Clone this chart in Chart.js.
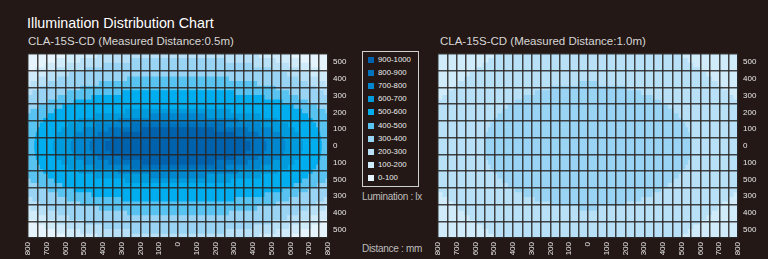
<!DOCTYPE html>
<html>
<head>
<meta charset="utf-8">
<script src="https://cdn.jsdelivr.net/npm/chart.js@4.4.0/dist/chart.umd.min.js"></script>
<style>
  html, body { margin: 0; padding: 0; background: #231815; }
  body { width: 768px; height: 259px; position: relative; overflow: hidden; font-family: "Liberation Sans", Arial, sans-serif; }
  .title { position: absolute; left: 27px; top: 16px; color: #fff; font-size: 14.3px; line-height: 14px; white-space: nowrap; }
  .sub { position: absolute; top: 36px; color: #d6d6d6; font-size: 11.5px; line-height: 11.5px; white-space: nowrap; }
  canvas { position: absolute; }
  #legend { position: absolute; left: 362px; top: 51px; width: 55px; height: 134px; border: 1px solid #d0d0d0; }
  .item { position: absolute; left: 5px; height: 8px; color: #ececec; font-size: 7.8px; line-height: 8px; white-space: nowrap; }
  .item span { position: absolute; left: 0; top: 1px; width: 6px; height: 6px; }
  .item b { position: absolute; left: 10px; top: 0; font-weight: normal; }
  .note { position: absolute; left: 362px; color: #bdbdbd; font-size: 10px; line-height: 10px; letter-spacing: -0.3px; white-space: nowrap; }
</style>
</head>
<body>
<div class="title">Illumination Distribution Chart</div>
<div class="sub" style="left:28px">CLA-15S-CD (Measured Distance:0.5m)</div>
<div class="sub" style="left:440px">CLA-15S-CD (Measured Distance:1.0m)</div>
<canvas id="near" width="340" height="215" style="left:20px; top:44px"></canvas>
<canvas id="far" width="338" height="215" style="left:430px; top:44px"></canvas>
<div id="legend"></div>
<div class="note" style="top:192px">Lumination : lx</div>
<div class="note" style="top:244px">Distance : mm</div>
<script>
// lux ranges, darkest shown first in the legend
const levels = ["0-100", "100-200", "200-300", "300-400", "400-500", "500-600", "600-700", "700-800", "800-900", "900-1000"];
const levelColors = ["#e6f5fd", "#d0ecfa", "#b8e1f8", "#9ad4f4", "#58c3f0", "#00aeef", "#009bdd", "#0087cf", "#0073bf", "#0061ad"];

// tick labels as printed on the original
const xTickLabels = ["800", "700", "600", "500", "400", "300", "200", "100", "0", "100", "200", "300", "400", "500", "600", "700", "800"];
const yTickLabels = ["500", "450", "400", "500", "300", "250", "200", "150", "100", "50", "0", "50", "100", "150", "500", "550", "300", "350", "400", "450", "500"];

// 25 mm bands, upper half (mm from centre); lower half is the mirror
const bandsUpper = [487.5, 462.5, 437.5, 412.5, 387.5, 362.5, 337.5, 312.5, 287.5, 262.5, 237.5, 212.5, 187.5, 162.5, 137.5, 112.5, 87.5, 62.5, 37.5, 12.5];

// half width (mm) of each lux zone in every band, measured distance 0.5 m
const nearL1 = [600, 655, 710, 760, 800, 800, 800, 800, 800, 800, 800, 800, 800, 800, 800, 800, 800, 800, 800, 800];
const nearL2 = [430, 520, 590, 650, 700, 745, 785, 800, 800, 800, 800, 800, 800, 800, 800, 800, 800, 800, 800, 800];
const nearL3 = [0, 250, 400, 500, 580, 640, 690, 735, 775, 800, 800, 800, 800, 800, 800, 800, 800, 800, 800, 800];
const nearL4 = [0, 0, 0, 0, 0, 270, 420, 520, 590, 640, 690, 740, 785, 800, 800, 800, 800, 800, 800, 800];
const nearL5 = [0, 0, 0, 0, 0, 0, 0, 0, 300, 460, 555, 615, 660, 692, 717, 735, 748, 757, 762, 765];
const nearL6 = [0, 0, 0, 0, 0, 0, 0, 0, 0, 0, 0, 0, 280, 440, 530, 585, 620, 643, 657, 665];
const nearL7 = [0, 0, 0, 0, 0, 0, 0, 0, 0, 0, 0, 0, 0, 150, 320, 440, 505, 543, 562, 570];
const nearL8 = [0, 0, 0, 0, 0, 0, 0, 0, 0, 0, 0, 0, 0, 0, 0, 250, 370, 428, 458, 470];
const nearL9 = [0, 0, 0, 0, 0, 0, 0, 0, 0, 0, 0, 0, 0, 0, 0, 0, 190, 300, 360, 386];

// measured distance 1.0 m
const farL1 = [800, 800, 800, 800, 800, 800, 800, 800, 800, 800, 800, 800, 800, 800, 800, 800, 800, 800, 800, 800];
const farL2 = [500, 530, 560, 595, 630, 660, 690, 715, 745, 775, 800, 800, 800, 800, 800, 800, 800, 800, 800, 800];
const farL3 = [0, 0, 0, 0, 0, 0, 50, 198, 282, 342, 388, 425, 456, 481, 502, 518, 531, 540, 547, 550];

const bands = bandsUpper.concat(bandsUpper.map(v => -v).reverse());
const gridColor = "rgba(40,36,34,0.85)";

function zoneData(widths) {
  return bands.map((b, i) => {
    const w = widths[i < 20 ? i : 39 - i];
    return w > 0 ? [-w, w] : null;
  });
}

function heatmap(id, zones, rightWidth) {
  const base = bandsUpper.map(() => 800);
  const all = [base].concat(zones);
  const datasets = all.map((w, k) => ({
    label: levels[k],
    data: zoneData(w),
    backgroundColor: levelColors[k],
    borderWidth: 0,
    grouped: false,
    categoryPercentage: 1,
    barPercentage: 1,
    order: 10 - k
  }));
  new Chart(document.getElementById(id), {
    type: "bar",
    data: { labels: bands, datasets },
    options: {
      indexAxis: "y",
      responsive: false,
      animation: false,
      devicePixelRatio: 1,
      layout: { padding: { left: 8, top: 6, right: 0, bottom: 0 } },
      plugins: { legend: { display: false }, tooltip: { enabled: false } },
      scales: {
        y: { type: "category", display: false },
        x: {
          type: "linear", min: -800, max: 800,
          grid: { color: gridColor, lineWidth: 1.5, drawTicks: false, z: 1 },
          border: { color: gridColor, width: 1.5, z: 1 },
          ticks: {
            stepSize: 50, autoSkip: false, minRotation: 90, maxRotation: 90, padding: 4,
            color: "#e6e6e6", font: { family: "Liberation Sans", size: 8 },
            callback: v => (v % 100 === 0 ? xTickLabels[(v + 800) / 100] : "")
          },
          afterFit: s => { s.height = 21; }
        },
        yr: {
          type: "linear", position: "right", min: -500, max: 500,
          grid: { color: gridColor, lineWidth: 1.5, drawTicks: false, z: 1 },
          border: { color: gridColor, width: 1.5, z: 1 },
          ticks: {
            stepSize: 50, padding: 5, color: "#e6e6e6",
            font: { family: "Liberation Sans", size: 8 },
            callback: (v, i) => yTickLabels[20 - i]
          },
          afterFit: s => { s.width = rightWidth; }
        }
      }
    }
  });
}

heatmap("near", [nearL1, nearL2, nearL3, nearL4, nearL5, nearL6, nearL7, nearL8, nearL9], 32);
heatmap("far", [farL1, farL2, farL3], 30);

// legend, darkest range at the top
const legend = document.getElementById("legend");
levels.slice().reverse().forEach((name, i) => {
  const row = document.createElement("div");
  row.className = "item";
  row.style.top = (4 + i * 13.1) + "px";
  row.innerHTML = '<span style="background:' + levelColors[levels.length - 1 - i] + '"></span><b>' + name + "</b>";
  legend.appendChild(row);
});
</script>
</body>
</html>
